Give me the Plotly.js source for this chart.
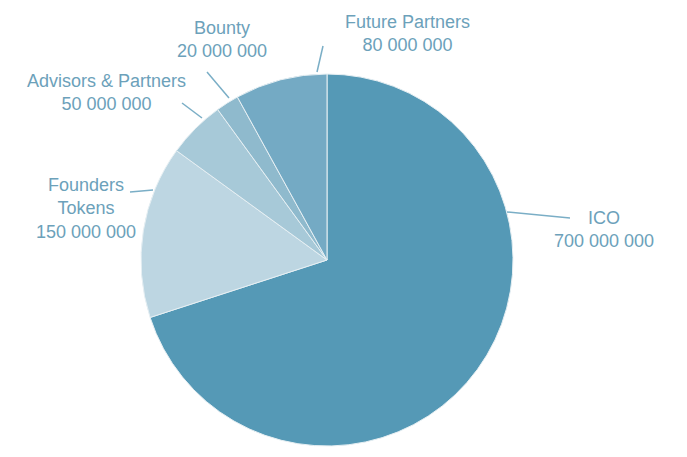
<!DOCTYPE html>
<html>
<head>
<meta charset="utf-8">
<script src="https://cdn.plot.ly/plotly-3.0.1.min.js"></script>
<style>html,body{margin:0;padding:0;background:#fff;}#chart{width:687px;height:457px;}</style>
</head>
<body>
<div id="chart"></div>
<script>
// Data
var categories = ["ICO", "Founders Tokens", "Advisors & Partners", "Bounty", "Future Partners"];
var displayLabels = ["ICO", "Founders<br>Tokens", "Advisors & Partners", "Bounty", "Future Partners"];
var values = [700000000, 150000000, 50000000, 20000000, 80000000];
var sliceColors = ["#5599b6", "#bdd6e2", "#a7c9d8", "#8fbacd", "#74aac4"];

// Layout helpers (pixel -> paper)
var W = 687, H = 457;
function px(x) { return x / W; }
function py(y) { return 1 - y / H; }
function fmt(v) { return String(v).replace(/\B(?=(\d{3})+(?!\d))/g, " "); }

// Label block centres and leader lines (layout, in pixels)
var labelPos = [[604, 230], [86, 208], [106, 92], [222, 39], [407, 33]];
var leaders = [[507, 212, 570, 218], [130, 192, 153, 190], [182, 103, 202, 118], [207, 72, 229, 98], [317, 72, 323, 46]];

var textColor = "#6ca1ba";
var lineColor = "#7aaec6";

var annotations = categories.map(function (c, i) {
  return {
    xref: "paper", yref: "paper",
    x: px(labelPos[i][0]), y: py(labelPos[i][1]),
    xanchor: "center", yanchor: "middle",
    text: displayLabels[i] + "<br>" + fmt(values[i]),
    showarrow: false, align: "center",
    font: { family: "Liberation Sans, Arial, Helvetica, sans-serif", size: 18, color: textColor }
  };
});

var shapes = leaders.map(function (l) {
  return {
    type: "line", xref: "paper", yref: "paper",
    x0: px(l[0]), y0: py(l[1]), x1: px(l[2]), y1: py(l[3]),
    line: { color: lineColor, width: 1.5 }
  };
});

var cx = 327, cy = 260, r = 186;
var trace = {
  type: "pie",
  labels: categories,
  values: values,
  sort: false,
  direction: "clockwise",
  rotation: 0,
  textinfo: "none",
  hoverinfo: "label+value",
  marker: { colors: sliceColors, line: { color: "#e6eff3", width: 1 } },
  domain: { x: [px(cx - r), px(cx + r)], y: [py(cy + r), py(cy - r)] }
};

var layout = {
  width: W, height: H,
  margin: { l: 0, r: 0, t: 0, b: 0 },
  paper_bgcolor: "#ffffff",
  showlegend: false,
  annotations: annotations,
  shapes: shapes
};

Plotly.newPlot("chart", [trace], layout, { displayModeBar: false, staticPlot: true });
</script>
</body>
</html>
